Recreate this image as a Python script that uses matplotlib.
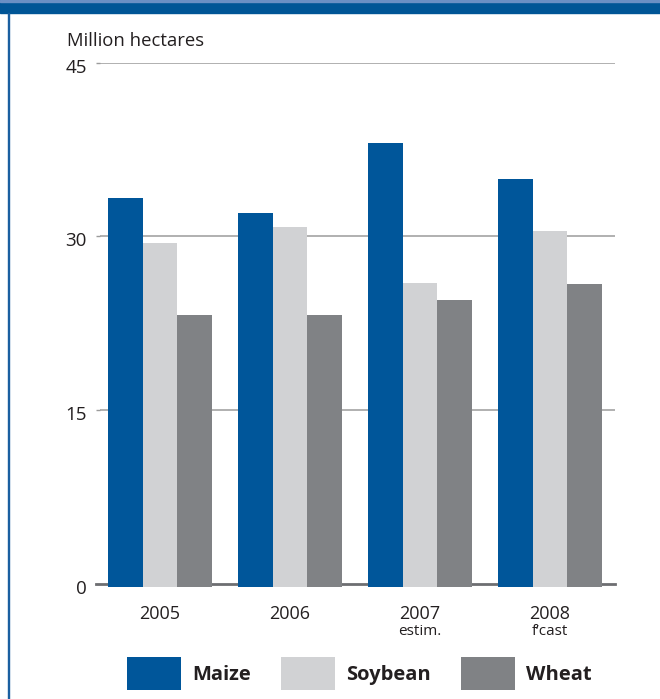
import matplotlib
matplotlib.use("Agg")
import matplotlib.pyplot as plt
import matplotlib.transforms as mtransforms
from matplotlib.patches import Rectangle
import numpy as np

plt.rcParams['font.family'] = ['Open Sans', 'DejaVu Sans']

years = ['2005', '2006', '2007', '2008']
year_notes = ['', '', 'estim.', 'f\u2019cast']
maize = [33.3, 32.0, 38.1, 35.0]
soybean = [29.4, 30.8, 26.0, 30.5]
wheat = [23.2, 23.2, 24.5, 25.9]
yticks = [0, 15, 30, 45]

BLUE = '#00569a'
LIGHT = '#d1d2d4'
DARK = '#808285'
GRID = '#9b9b9b'
AXIS = '#6d6e71'
TEXT = '#231f20'

W, H = 660, 699
fig = plt.figure(figsize=(W / 100, H / 100), dpi=100)

# axes box in pixels: left 100, right 615, bottom 587, top 62.7
ax = fig.add_axes([100 / W, (H - 587) / H, 515 / W, (587 - 62.7) / H])

x = np.arange(len(years))
bw = 0.267
base = -0.26  # bars start a touch below the baseline
ax.bar(x - bw, np.array(maize) - base, bw, bottom=base, color=BLUE, label='Maize', zorder=3)
ax.bar(x, np.array(soybean) - base, bw, bottom=base, color=LIGHT, label='Soybean', zorder=3)
ax.bar(x + bw, np.array(wheat) - base, bw, bottom=base, color=DARK, label='Wheat', zorder=3)

ax.set_xlim(-0.4615, 3.5)
ax.set_ylim(base, 45)

for s in ax.spines.values():
    s.set_visible(False)

ax.set_yticks(yticks)
ax.set_yticklabels([str(t) for t in yticks], fontsize=13.5, color=TEXT)
ax.tick_params(axis='y', length=3, width=1, color=GRID, pad=6.5)
shift = mtransforms.ScaledTranslation(0, -3 / 100, fig.dpi_scale_trans)
for lbl in ax.get_yticklabels():
    lbl.set_va('center_baseline')
    lbl.set_transform(lbl.get_transform() + shift)
ax.yaxis.grid(True, color=GRID, linewidth=1.1)
ax.set_axisbelow(True)
ax.get_ygridlines()[0].set_visible(False)
ax.yaxis.get_major_ticks()[0].tick1line.set_color(AXIS)
ax.axhline(0, xmin=-4 / 515, xmax=1, color=AXIS, linewidth=2, zorder=2, clip_on=False)

ax.set_xticks(x)
ax.set_xticklabels(years, fontsize=13, color=TEXT)
ax.tick_params(axis='x', length=0, pad=13)
for xi, note in zip(x, year_notes):
    if note:
        ax.annotate(note, xy=(xi, -0.084), xycoords=('data', 'axes fraction'),
                    ha='center', va='center', fontsize=11, color=TEXT)

fig.text(67 / W, (H - 46) / H, 'Million hectares', fontsize=13.3, color=TEXT,
         ha='left', va='baseline')

leg = ax.legend(loc='center', bbox_to_anchor=(359.5 / W, (H - 673.5) / H),
                bbox_transform=fig.transFigure, ncol=3, frameon=False,
                prop={'size': 14.5, 'weight': 'bold'}, handlelength=2.68,
                handleheight=2.14, handletextpad=0.545, columnspacing=1.5,
                borderpad=0, borderaxespad=0)
for t in leg.get_texts():
    t.set_color(TEXT)

# header band and left rule
fig.patches.append(Rectangle((0, (H - 13) / H), 1, 13 / H, transform=fig.transFigure,
                             color='#005596', zorder=0))
fig.patches.append(Rectangle((0, (H - 2) / H), 1, 2 / H, transform=fig.transFigure,
                             color='#6a8fc4', zorder=1))
fig.patches.append(Rectangle((7.5 / W, 0), 1.3 / W, (H - 13) / H, transform=fig.transFigure,
                             color='#1a5fa0', zorder=0))

fig.savefig('out.png', dpi=100)
plt.close()
